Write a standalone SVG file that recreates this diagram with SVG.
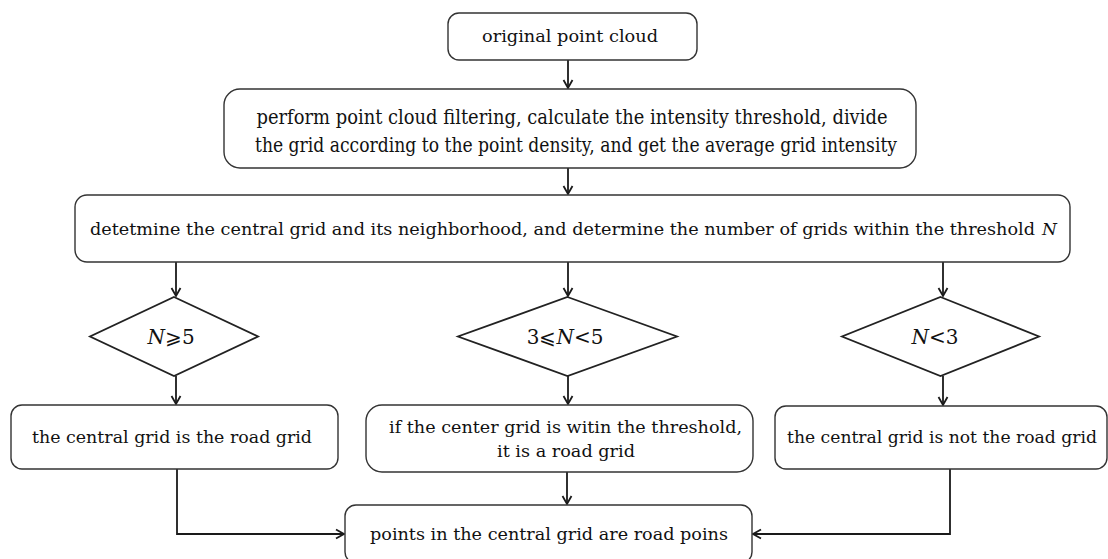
<svg xmlns="http://www.w3.org/2000/svg" width="1108" height="559" viewBox="0 0 1108 559">
<defs>
<style>
.box{fill:#fff;stroke:#333;stroke-width:1.4}
.dia{fill:#fff;stroke:#222;stroke-width:1.8}
.t{font-family:"DejaVu Serif","Liberation Serif",serif;font-size:17.5px;fill:#111;text-anchor:middle}
.s{font-family:"DejaVu Serif","Liberation Serif",serif;font-size:17px;fill:#111;text-anchor:start}
.d{font-family:"DejaVu Serif","Liberation Serif",serif;font-size:20px;fill:#111;text-anchor:middle}
.c{font-family:"DejaVu Serif","Liberation Serif",serif;font-size:20px;fill:#111;text-anchor:middle}
.ln{fill:none;stroke:#1a1a1a;stroke-width:1.8}
</style>
<marker id="ah" markerWidth="12" markerHeight="12" refX="10" refY="6" orient="auto" markerUnits="userSpaceOnUse">
<path d="M2,1.5 L10,6 L2,10.5" fill="none" stroke="#1a1a1a" stroke-width="1.8"/>
</marker>
</defs>
<rect width="1108" height="559" fill="#fff"/>
<g id="connectors">
<path class="ln" d="M568,60 V88" marker-end="url(#ah)"/>
<path class="ln" d="M568,168 V194" marker-end="url(#ah)"/>
<path class="ln" d="M176,262 V296" marker-end="url(#ah)"/>
<path class="ln" d="M568,262 V296" marker-end="url(#ah)"/>
<path class="ln" d="M943,262 V296" marker-end="url(#ah)"/>
<path class="ln" d="M176,376 V404" marker-end="url(#ah)"/>
<path class="ln" d="M568,376 V404" marker-end="url(#ah)"/>
<path class="ln" d="M943,376 V405" marker-end="url(#ah)"/>
<path class="ln" d="M567,472 V504" marker-end="url(#ah)"/>
<path class="ln" d="M177,469 V534 H344" marker-end="url(#ah)"/>
<path class="ln" d="M950,469 V534 H753" marker-end="url(#ah)"/>
</g>
<g id="n1">
<rect class="box" x="448" y="13" width="249" height="47" rx="11"/>
<text class="t" x="570" y="42" textLength="176" lengthAdjust="spacingAndGlyphs">original point cloud</text>
</g>
<g id="n2">
<rect class="box" x="224" y="89" width="692" height="79" rx="16"/>
<text class="c" x="572" y="124" textLength="631" lengthAdjust="spacingAndGlyphs">perform point cloud filtering, calculate the intensity threshold, divide</text>
<text class="c" x="576" y="152" textLength="642" lengthAdjust="spacingAndGlyphs">the grid according to the point density, and get the average grid intensity</text>
</g>
<g id="n3">
<rect class="box" x="75" y="195" width="995" height="67" rx="12"/>
<text class="s" x="90" y="235" textLength="945" lengthAdjust="spacingAndGlyphs">detetmine the central grid and its neighborhood, and determine the number of grids within the threshold</text>
<text class="s" x="1042" y="235" font-style="italic">N</text>
</g>
<g id="d1">
<polygon class="dia" points="174,297 258,336.5 174,376 90,336.5"/>
<text class="d" x="171" y="344"><tspan font-style="italic">N</tspan>⩾5</text>
</g>
<g id="d2">
<polygon class="dia" points="567.5,297 677,336.5 567.5,376 458,336.5"/>
<text class="d" x="565" y="344">3⩽<tspan font-style="italic">N</tspan>&lt;5</text>
</g>
<g id="d3">
<polygon class="dia" points="940.5,297 1039,336.5 940.5,376 842,336.5"/>
<text class="d" x="935" y="344"><tspan font-style="italic">N</tspan>&lt;3</text>
</g>
<g id="n4">
<rect class="box" x="11" y="405" width="327" height="64" rx="11"/>
<text class="t" x="172" y="443" textLength="280" lengthAdjust="spacingAndGlyphs">the central grid is the road grid</text>
</g>
<g id="n5">
<rect class="box" x="366" y="405" width="387" height="67" rx="16"/>
<text class="t" x="565.5" y="433" textLength="353" lengthAdjust="spacingAndGlyphs">if the center grid is witin the threshold,</text>
<text class="t" x="566" y="457" textLength="138" lengthAdjust="spacingAndGlyphs">it is a road grid</text>
</g>
<g id="n6">
<rect class="box" x="775" y="406" width="332" height="63" rx="11"/>
<text class="t" x="942" y="443" font-size="17px" textLength="310" lengthAdjust="spacingAndGlyphs">the central grid is not the road grid</text>
</g>
<g id="n7">
<rect class="box" x="345" y="505" width="407" height="58" rx="11"/>
<text class="t" x="549" y="540" textLength="358" lengthAdjust="spacingAndGlyphs">points in the central grid are road poins</text>
</g>
</svg>
